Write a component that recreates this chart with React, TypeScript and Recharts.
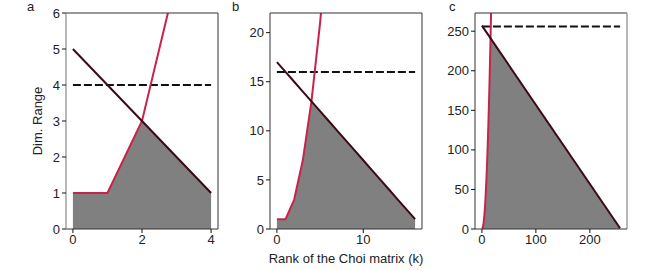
import React from 'react'
import {
  ComposedChart, Area, Line, XAxis, YAxis, ReferenceLine,
} from 'recharts'

// panel a: red growth, black bound, grey reachable region, dashed dimension
const K_A = [0, 1, 2, 3, 4]
const GROWTH_A = [1, 1, 3, 7, 13]
const BOUND_A = [5, 4, 3, 2, 1]
const REACH_A = [1, 1, 3, 2, 1]
const DIM_A = 4

// panel b
const K_B = [0, 1, 2, 3, 4, 5, 6, 7, 8, 9, 10, 11, 12, 13, 14, 15, 16]
const GROWTH_B = [1, 1, 3, 7, 13, 21, 31]
const BOUND_B = [17, 16, 15, 14, 13, 12, 11, 10, 9, 8, 7, 6, 5, 4, 3, 2, 1]
const REACH_B = [1, 1, 3, 7, 13, 12, 11, 10, 9, 8, 7, 6, 5, 4, 3, 2, 1]
const DIM_B = 16

// panel c
const K_GROWTH_C = [0, 1, 2, 3, 4, 5, 6, 7, 8, 9, 10, 11, 12, 13, 14, 15, 16, 17]
const GROWTH_C = [1, 1, 3, 7, 13, 21, 31, 43, 57, 73, 91, 111, 133, 157, 183, 211, 241, 273]
const K_REACH_C = [0, 1, 2, 3, 4, 5, 6, 7, 8, 9, 10, 11, 12, 13, 14, 15, 16, 256]
const REACH_C = [1, 1, 3, 7, 13, 21, 31, 43, 57, 73, 91, 111, 133, 157, 183, 211, 241, 1]
const K_BOUND_C = [0, 256]
const BOUND_C = [257, 1]
const DIM_C = 256

const TICKS_X_A = [0, 2, 4]
const TICKS_Y_A = [0, 1, 2, 3, 4, 5, 6]
const TICKS_X_B = [0, 10]
const TICKS_Y_B = [0, 5, 10, 15, 20]
const TICKS_X_C = [0, 100, 200]
const TICKS_Y_C = [0, 50, 100, 150, 200, 250]

const RED = '#C8234A'
const DARK = '#3B0A14'
const FILL = '#808080'
const SPINE = '#333'
const FONT = '"Liberation Sans", Arial, Helvetica, sans-serif'
const FS = 13

type Series = { k: number[]; v: number[] }

function mergeRows(series: Record<string, Series>) {
  const ks = Array.from(new Set(Object.values(series).flatMap(s => s.k))).sort((a, b) => a - b)
  return ks.map(k => {
    const row: Record<string, number> = { k }
    for (const [name, s] of Object.entries(series)) {
      const i = s.k.indexOf(k)
      if (i >= 0) row[name] = s.v[i]
    }
    return row
  })
}

const YW = 40
const PLOT_W = 152
const TOP = 13
const PLOT_H = 216
const XH = 30

function Panel({
  left, letter, letterX, series, xDomain, xTicks, yDomain, yTicks,
  leftSpine = SPINE, rightSpine = SPINE,
}: {
  left: number; letter: string; letterX: number
  series: Record<string, Series>
  xDomain: [number, number]; xTicks: number[]
  yDomain: [number, number]; yTicks: number[]
  leftSpine?: string; rightSpine?: string
}) {
  const data = mergeRows(series)
  const tick = { fontSize: FS, fill: '#222', fontFamily: FONT }
  return (
    <>
      <div style={{
        position: 'absolute', left: letterX, top: 0, fontSize: FS, lineHeight: '13px', color: '#222',
      }}>{letter}</div>
      <div style={{ position: 'absolute', left: left - YW, top: 0 }}>
        <ComposedChart
          width={YW + PLOT_W + 4}
          height={TOP + PLOT_H + XH}
          data={data}
          margin={{ top: TOP, right: 4, left: 0, bottom: 0 }}
        >
          <XAxis
            dataKey="k" type="number" domain={xDomain} ticks={xTicks} interval={0}
            allowDataOverflow height={XH} tick={tick} tickSize={4}
            axisLine={{ stroke: SPINE }} tickLine={{ stroke: '#111' }}
          />
          <YAxis
            type="number" domain={yDomain} ticks={yTicks} interval={0}
            allowDataOverflow width={YW} tick={tick} tickSize={4}
            axisLine={{ stroke: leftSpine, strokeWidth: leftSpine === SPINE ? 1 : 1.5 }}
            tickLine={{ stroke: '#111' }}
          />
          <Area
            dataKey="reach" type="linear" stroke="none" fill={FILL} fillOpacity={1}
            connectNulls isAnimationActive={false} dot={false} activeDot={false}
          />
          <Line
            dataKey="dim" type="linear" stroke="#111" strokeWidth={2} strokeDasharray="8 3"
            connectNulls isAnimationActive={false} dot={false} activeDot={false}
          />
          <Line
            dataKey="growth" type="linear" stroke={RED} strokeWidth={2}
            connectNulls isAnimationActive={false} dot={false} activeDot={false}
          />
          <Line
            dataKey="bound" type="linear" stroke={DARK} strokeWidth={2}
            connectNulls isAnimationActive={false} dot={false} activeDot={false}
          />
          <ReferenceLine y={yDomain[1]} stroke={SPINE} strokeWidth={1} />
          <ReferenceLine x={xDomain[1]} stroke={rightSpine} strokeWidth={rightSpine === SPINE ? 1 : 1.5} />
        </ComposedChart>
      </div>
    </>
  )
}

export default function App() {
  return (
    <div style={{
      position: 'absolute', left: 0, top: 0, width: 660, height: 270,
      background: '#fff', fontFamily: FONT, overflow: 'hidden',
    }}>
      <Panel
        left={65.5} letter="a" letterX={27}
        series={{
          growth: { k: K_A, v: GROWTH_A },
          bound: { k: K_A, v: BOUND_A },
          reach: { k: K_A, v: REACH_A },
          dim: { k: [K_A[0], K_A[K_A.length - 1]], v: [DIM_A, DIM_A] },
        }}
        xDomain={[-0.2, 4.2]} xTicks={TICKS_X_A}
        yDomain={[0, 6]} yTicks={TICKS_Y_A}
        leftSpine="#a0a0a0"
      />
      <Panel
        left={270} letter="b" letterX={232}
        series={{
          growth: { k: K_B.slice(0, GROWTH_B.length), v: GROWTH_B },
          bound: { k: K_B, v: BOUND_B },
          reach: { k: K_B, v: REACH_B },
          dim: { k: [K_B[0], K_B[K_B.length - 1]], v: [DIM_B, DIM_B] },
        }}
        xDomain={[-0.8, 16.8]} xTicks={TICKS_X_B}
        yDomain={[0, 22]} yTicks={TICKS_Y_B}
      />
      <Panel
        left={474.5} letter="c" letterX={449}
        series={{
          growth: { k: K_GROWTH_C, v: GROWTH_C },
          bound: { k: K_BOUND_C, v: BOUND_C },
          reach: { k: K_REACH_C, v: REACH_C },
          dim: { k: K_BOUND_C, v: [DIM_C, DIM_C] },
        }}
        xDomain={[-12.8, 268.8]} xTicks={TICKS_X_C}
        yDomain={[0, 273]} yTicks={TICKS_Y_C}
        rightSpine="#a0a0a0"
      />
      <div style={{
        position: 'absolute', left: 37, top: 121, fontSize: FS, lineHeight: '15px', color: '#222',
        transform: 'translate(-50%, -50%) rotate(-90deg)', whiteSpace: 'nowrap',
      }}>Dim. Range</div>
      <div style={{
        position: 'absolute', left: 346, top: 251, fontSize: FS, lineHeight: '15px', color: '#222',
        transform: 'translateX(-50%)', whiteSpace: 'nowrap',
      }}>Rank of the Choi matrix (k)</div>
    </div>
  )
}
